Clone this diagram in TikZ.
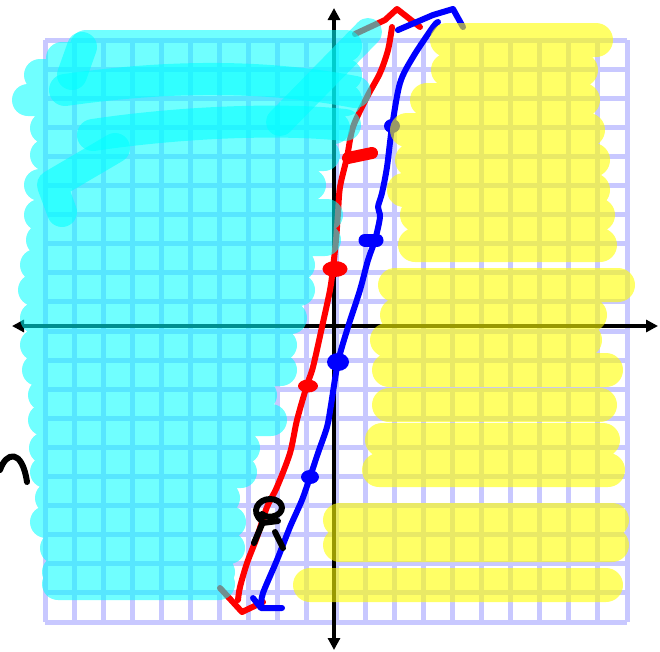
\documentclass[tikz,border=0pt]{standalone}
\usepackage{tikz}
\usetikzlibrary{arrows.meta}
\definecolor{gridlav}{RGB}{200,200,255}
\definecolor{penred}{RGB}{255,0,0}
\definecolor{penblue}{RGB}{0,0,255}
\definecolor{hlcyan}{RGB}{0,255,255}
\definecolor{hlyellow}{RGB}{255,255,0}
\tikzset{every path/.style={line cap=round, line join=round}, >={Triangle[length=12pt, width=12pt]}}
\tikzset{
    gridline/.style={gridlav, line width=5pt, line cap=butt},
    axisline/.style={black, line width=3.5pt, line cap=butt, <->},
    redpen/.style={penred, line width=6pt},
    bluepen/.style={penblue, line width=6pt},
    inkpen/.style={black, line width=6pt},
    cyanfill/.style={fill=hlcyan, fill opacity=.56, rounded corners=16pt},
    cyanstroke/.style={hlcyan, line width=32pt, opacity=.56},
    yellowfill/.style={fill=hlyellow, fill opacity=.6, rounded corners=17pt}
}

\begin{document}
\begin{tikzpicture}[x=1pt, y=-1pt]
    \useasboundingbox (0,0) rectangle (660,651);
    % grid
    \foreach \i in {0,...,20} {
        \draw [gridline] ({45+29.1*\i},40) -- ({45+29.1*\i},622);
        \draw [gridline] (45,{40+29.1*\i}) -- (627,{40+29.1*\i});
    }
    \draw [axisline] (12,326) -- (658,326);
    \draw [axisline] (334,8) -- (334,650);

    % red curve
    \draw [redpen] plot [smooth, tension=.5] coordinates {
        (238,600) (240,587) (247,563) (257,537) (267,507) (277,487) (290,453)
        (297,420) (307,385) (313,367) (322,327) (330,290) (333,268) (336,240)
        (338,213) (340,187) (347,157) (353,127) (367,97) (380,73) (388,50) (392,27)};
    \draw [redpen] (355,34) -- (385,20) -- (397,9) -- (420,27);
    \draw [redpen] (220,588) -- (242,612) -- (263,602);
    \draw [redpen, line width=12pt] (348,158) -- (372,153);
    \fill [penred] (335,269) ellipse [x radius=12.5pt, y radius=8pt];
    \fill [penred] (308,386) ellipse [x radius=10pt, y radius=6.5pt];

    % blue curve
    \draw [bluepen] plot [smooth, tension=.5] coordinates {
        (261,606) (263,593) (277,560) (290,527) (302,500) (310,477) (318,453)
        (327,427) (331,405) (338,362) (348,327) (360,290) (368,260) (375,240)
        (380,217) (378,207) (382,193) (387,167) (392,127) (400,83) (413,57)
        (433,27) (438,22)};
    \draw [bluepen] (398,30) -- (433,15) -- (453,9) -- (463,27);
    \draw [bluepen] (253,598) -- (261,608) -- (282,608);
    \draw [bluepen, line width=13pt] (365,240) -- (377,240);
    \foreach \p/\rx/\ry in {(392,126)/8/7, (338,362)/11/9, (310,477)/9/7}
        \fill [penblue] \p ellipse [x radius=\rx pt, y radius=\ry pt];

    % cyan highlight
    \path [cyanfill]
        \foreach \y/\a/\b in {46/86/346, 58/62/130, 75/40/346, 100/28/346, 128/46/334,
            155/46/324, 185/40/310, 215/40/327, 240/42/325, 265/36/299,
            290/34/299, 318/36/291, 345/36/281, 370/38/281, 395/44/261,
            420/44/271, 448/45/244, 472/46/241, 498/51/224, 522/46/230,
            548/56/229, 572/58/219, 584/58/219} { ({\a-16},{\y-16}) rectangle ({\b+16},{\y+16}) };
    \draw [cyanstroke, line width=30pt] (82,47) -- (72,75);
    \draw [cyanstroke] (65,90) .. controls (150,78) and (250,72) .. (355,92);
    \draw [cyanstroke] (93,135) .. controls (180,122) and (280,118) .. (345,125);
    \draw [cyanstroke, line width=30pt] (115,148) -- (52,185) -- (62,212);
    \draw [cyanstroke, line width=28pt] (368,32) -- (280,122);

    % yellow highlight
    \path [yellowfill]
        \foreach \y/\a/\b in {40/447/596, 70/448/581, 100/427/583, 130/407/588,
            160/412/593, 190/404/593, 215/417/598, 245/415/600, 285/395/618,
            315/397/590, 340/387/585, 370/389/606, 405/389/600, 440/382/603,
            470/379/608, 520/340/612, 545/340/612, 585/310/606} { ({\a-17},{\y-17}) rectangle ({\b+17},{\y+17}) };

    % pen marks
    \draw [inkpen] (0,470) .. controls (6,452) and (22,448) .. (27,482);
    \draw [inkpen] (262,521) .. controls (250,512) and (258,499) .. (270,499)
        .. controls (282,499) and (286,510) .. (277,515)
        .. controls (271,518) and (265,517) .. (262,514);
    \draw [inkpen] (262,523) -- (278,521);
    \draw [inkpen] (263,522) -- (254,543);
    \draw [inkpen] (275,532) -- (283,548);
\end{tikzpicture}
\end{document}
